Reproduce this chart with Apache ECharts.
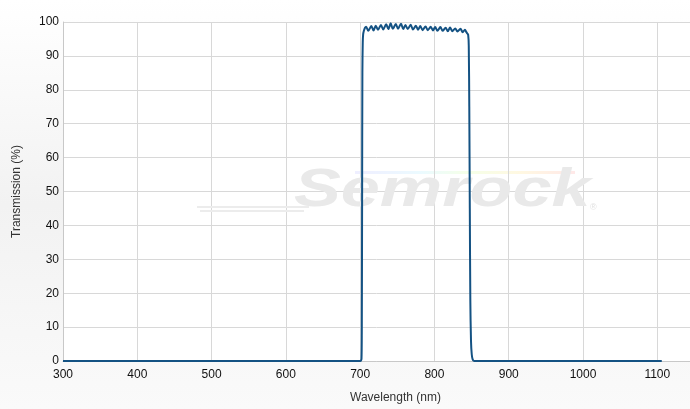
<!DOCTYPE html>
<html>
<head>
<meta charset="utf-8">
<script src="https://cdn.jsdelivr.net/npm/echarts@6/dist/echarts.min.js"></script>
<style>
html,body{margin:0;padding:0;background:#fff;}
#chart{width:690px;height:409px;}
</style>
</head>
<body>
<div id="chart"></div>
<script>
// Wavelength (nm) and transmission (%)
const wavelengths = [300, 500, 700, 701, 701.8, 702.2, 702.6, 703, 703.5, 704, 705, 706.5,
  708, 711, 715, 718, 721, 724, 728, 731, 735, 738, 741, 744, 748, 751, 755, 758,
  761, 764, 768, 771, 775, 778, 781, 784, 788, 791, 795, 798, 801, 804, 808, 811,
  815, 818, 821, 824, 828, 831, 835, 838, 841, 843, 844.3, 845.4, 846.2, 846.9, 847.6,
  848.3, 849.2, 850.2, 851.3, 852.5, 854, 900, 1000, 1106];
const transmission = [0, 0, 0, 0.1, 0.6, 8, 45, 85, 94, 96.3, 97.4, 98.3,
  98.6, 97.4, 98.8, 97.5, 98.9, 97.7, 99.1, 97.8, 99.3, 97.9, 99.6, 98.0, 99.4, 98.0, 99.5, 97.9,
  99.1, 97.9, 99.2, 97.8, 98.9, 97.7, 98.8, 97.6, 98.7, 97.6, 98.6, 97.5, 98.5, 97.4, 98.5, 97.4,
  98.3, 97.3, 98.4, 97.3, 98.1, 97.2, 98.0, 97.0, 97.7, 97.0, 96.6, 96.2, 93, 75, 45,
  18, 6, 2, 0.6, 0.1, 0, 0, 0, 0];
const xTicks = [300, 400, 500, 600, 700, 800, 900, 1000, 1100];
const yTicks = [0, 10, 20, 30, 40, 50, 60, 70, 80, 90, 100];

const seriesData = wavelengths.map((w, i) => [w, transmission[i]]);

const chart = echarts.init(document.getElementById('chart'), null, {renderer: 'canvas'});
const font = '"Liberation Sans", Arial, sans-serif';
chart.setOption({
  animation: false,
  backgroundColor: {
    type: 'linear', x: 0, y: 0, x2: 0, y2: 1,
    colorStops: [
      {offset: 0, color: '#ffffff'},
      {offset: 0.5, color: '#f2f2f2'},
      {offset: 1, color: '#fafafa'}
    ]
  },
  grid: {
    left: 63, right: 0, top: 22, bottom: 48,
    show: true, backgroundColor: '#ffffff', borderWidth: 0
  },
  graphic: [
    {
      type: 'rect', left: 355, top: 171, z: 0, silent: true,
      shape: {width: 220, height: 3},
      style: {
        fill: {
          type: 'linear', x: 0, y: 0, x2: 1, y2: 0,
          colorStops: [
            {offset: 0, color: 'rgba(190,190,255,0.25)'},
            {offset: 0.3, color: 'rgba(190,240,255,0.3)'},
            {offset: 0.5, color: 'rgba(225,255,190,0.35)'},
            {offset: 0.75, color: 'rgba(255,235,170,0.35)'},
            {offset: 1, color: 'rgba(255,190,190,0.35)'}
          ]
        }
      }
    },
    {
      type: 'text', x: 294, y: 164, z: 1, silent: true,
      scaleX: 1.3, scaleY: 1,
      style: {
        text: 'Semrock',
        font: 'italic bold 54px "Liberation Sans", Arial, sans-serif',
        fill: '#e9e9e9'
      }
    },
    {
      type: 'text', left: 590, top: 203, z: 1, silent: true,
      style: { text: '®', font: '9px "Liberation Sans", Arial', fill: '#e2e2e2' }
    },
    {
      type: 'rect', left: 197, top: 206, z: 1, silent: true,
      shape: {width: 112, height: 2},
      style: {fill: '#ececec'}
    },
    {
      type: 'rect', left: 200, top: 210, z: 1, silent: true,
      shape: {width: 104, height: 2},
      style: {fill: '#ececec'}
    }
  ],
  xAxis: {
    type: 'value',
    min: 300, max: 1144, interval: 100,
    name: 'Wavelength (nm)',
    nameLocation: 'middle',
    nameGap: 31,
    nameTextStyle: {fontFamily: font, fontSize: 12, color: '#333', padding: [0, 0, 0, 38]},
    axisLine: {show: true, lineStyle: {color: '#c8c8c8', width: 1}},
    axisTick: {show: false},
    axisLabel: {
      fontFamily: font, fontSize: 12, color: '#111', margin: 8,
      showMaxLabel: false,
      formatter: v => xTicks.includes(v) ? String(v) : ''
    },
    splitLine: {show: true, lineStyle: {color: '#d8d8d8', width: 1}}
  },
  yAxis: {
    type: 'value',
    min: 0, max: 100, interval: 10,
    name: 'Transmission (%)',
    nameLocation: 'middle',
    nameGap: 40,
    nameTextStyle: {fontFamily: font, fontSize: 12, color: '#333'},
    axisLine: {show: true, lineStyle: {color: '#c8c8c8', width: 1}},
    axisTick: {show: false},
    axisLabel: {
      fontFamily: font, fontSize: 12, color: '#111', margin: 4,
      formatter: v => yTicks.includes(v) ? String(v) : ''
    },
    splitLine: {show: true, lineStyle: {color: '#d8d8d8', width: 1}}
  },
  series: [{
    type: 'line',
    data: seriesData,
    showSymbol: false,
    smooth: 0.3,
    lineStyle: {color: '#145283', width: 2},
    z: 5
  }]
});
</script>
</body>
</html>
